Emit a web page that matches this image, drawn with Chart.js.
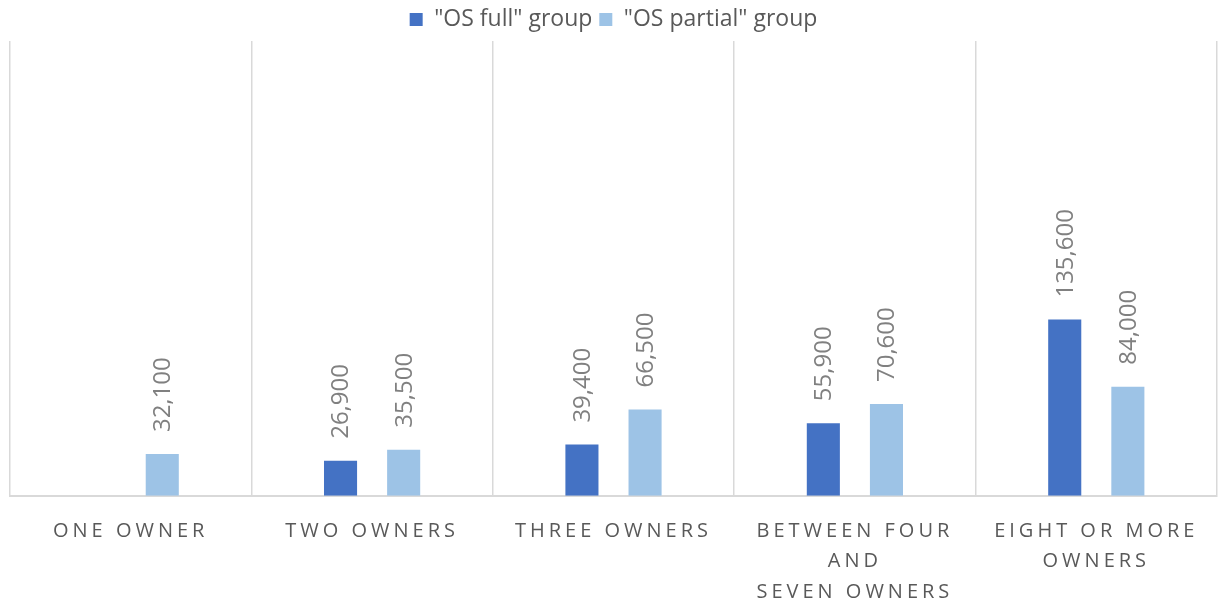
<!DOCTYPE html>
<html>
<head>
<meta charset="utf-8">
<script src="https://cdn.jsdelivr.net/npm/chart.js@4/dist/chart.umd.min.js"></script>
<style>
  html, body { margin: 0; padding: 0; background: #fff; }
  #wrap { width: 1225px; height: 599px; }
</style>
</head>
<body>
<div id="wrap"><canvas id="chart"></canvas></div>
<script>
const categories = [
  'ONE OWNER',
  'TWO OWNERS',
  'THREE OWNERS',
  ['BETWEEN FOUR', 'AND', 'SEVEN OWNERS'],
  ['EIGHT OR MORE', 'OWNERS']
];
const osFull    = [null, 26900, 39400, 55900, 135600];
const osPartial = [32100, 35500, 66500, 70600, 84000];
const seriesNames = ['"OS full" group', '"OS partial" group'];

// value labels, rotated, above each bar
const barLabels = {
  id: 'barLabels',
  afterDatasetsDraw(chart) {
    const ctx = chart.ctx;
    ctx.save();
    ctx.font = '24px "Open Sans"';
    ctx.fillStyle = '#808080';
    ctx.textAlign = 'left';
    ctx.textBaseline = 'middle';
    chart.data.datasets.forEach((ds, i) => {
      chart.getDatasetMeta(i).data.forEach((bar, j) => {
        const v = ds.data[j];
        if (v == null) return;
        ctx.save();
        ctx.translate(bar.x + 1, bar.y - 22);
        ctx.rotate(-Math.PI / 2);
        ctx.fillText(v.toLocaleString('en-US'), 0, 0);
        ctx.restore();
      });
    });
    ctx.restore();
  }
};

// spaced-out category labels
const spacedTicks = {
  id: 'spacedTicks',
  afterUpdate(chart) {
    const s = chart.scales.x;
    if (s._spaced) return;
    const orig = s.drawLabels;
    s.drawLabels = function (area) {
      this.ctx.save();
      this.ctx.letterSpacing = '4px';
      orig.call(this, area);
      this.ctx.restore();
    };
    s._spaced = true;
  }
};

new Chart(document.getElementById('chart'), {
  type: 'bar',
  data: {
    labels: categories,
    datasets: [
      {
        label: seriesNames[0],
        data: osFull,
        backgroundColor: '#4472C4',
        categoryPercentage: 0.523,
        barPercentage: 0.524
      },
      {
        label: seriesNames[1],
        data: osPartial,
        backgroundColor: '#9DC3E6',
        categoryPercentage: 0.523,
        barPercentage: 0.524
      }
    ]
  },
  options: {
    responsive: true,
    maintainAspectRatio: false,
    animation: false,
    layout: { padding: { left: 10, right: 8, top: 1, bottom: 0 } },
    scales: {
      x: {
        grid: { color: '#d9d9d9', lineWidth: 1.5, offset: true, drawTicks: false },
        border: { color: '#d9d9d9', width: 2 },
        ticks: {
          color: '#595959',
          font: { family: '"Open Sans"', size: 20, lineHeight: 1.52 },
          padding: 20,
          maxRotation: 0,
          autoSkip: false
        },
        afterFit(scale) { scale.height -= 28; }
      },
      y: {
        display: false,
        min: 0,
        max: 350000
      }
    },
    plugins: {
      legend: {
        position: 'top',
        labels: {
          color: '#595959',
          font: { family: '"Open Sans"', size: 23 },
          boxWidth: 13,
          boxHeight: 13,
          padding: 7
        }
      },
      tooltip: { enabled: false }
    }
  },
  plugins: [barLabels, spacedTicks]
});
</script>
</body>
</html>
